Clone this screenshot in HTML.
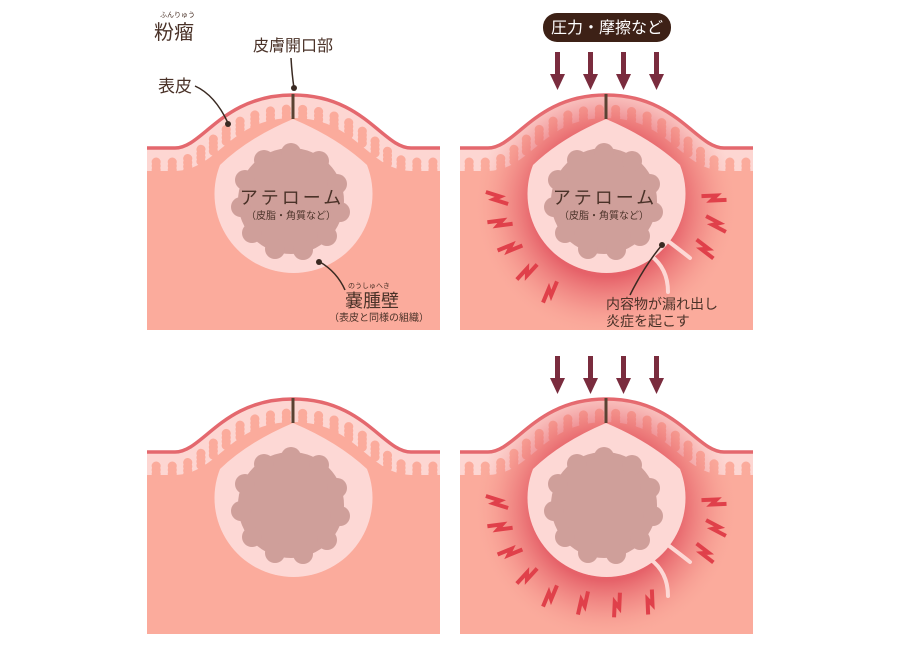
<!DOCTYPE html>
<html><head><meta charset="utf-8"><style>
html,body{margin:0;padding:0;background:#fff;}
svg{display:block;}
text{font-family:"Liberation Sans","Noto Sans CJK JP",sans-serif;fill:#4a3228;}
</style></head><body>
<svg width="900" height="650" viewBox="0 0 900 650" xmlns="http://www.w3.org/2000/svg">
<defs>
  <path id="surf" d="M140,148 L175,148 C203,148 222,95 293,95 C364,95 383,148 411,148 L447,148"/>
  <clipPath id="derm"><path d="M147,148 L175,148 C203,148 222,95 293,95 C364,95 383,148 411,148 L440,148 L440,330 L147,330 Z"/></clipPath>
  <radialGradient id="glow" cx="293" cy="205" r="130" gradientUnits="userSpaceOnUse">
    <stop offset="0.55" stop-color="#e04f5c" stop-opacity="0.8"/>
    <stop offset="0.78" stop-color="#e86a70" stop-opacity="0.35"/>
    <stop offset="1" stop-color="#f5a096" stop-opacity="0"/>
  </radialGradient>
  <g id="skin">
    <path d="M147,148 L175,148 C203,148 222,95 293,95 C364,95 383,148 411,148 L440,148 L440,330 L147,330 Z" fill="#fbab9c"/>
    <g clip-path="url(#derm)">
      <use href="#surf" fill="none" stroke="#fdd6d2" stroke-width="46"/>
      <g fill="none" stroke="#fbab9c" stroke-width="9" stroke-linecap="round" stroke-dasharray="0.1 16">
        <use href="#surf" transform="translate(0,14)"/>
        <use href="#surf" transform="translate(0,18)"/>
        <use href="#surf" transform="translate(0,22)"/>
        <use href="#surf" transform="translate(0,26)"/>
      </g>
    </g>
    <path d="M147,148 L175,148 C203,148 222,95 293,95 C364,95 383,148 411,148 L440,148" fill="none" stroke="#e4686e" stroke-width="3.5"/>
  </g>
  <g id="cyst">
    <path d="M293,119 Q338,138 367,165 A79 79 0 1 1 220,165 Q248,138 293,119Z" fill="#fdd8d5"/>
    <g fill="#cf9f9a">
      <circle cx="291" cy="201" r="53"/>
      <circle cx="291" cy="153" r="10"/><circle cx="319" cy="161" r="10"/><circle cx="337" cy="184" r="10"/>
      <circle cx="340" cy="212" r="10"/><circle cx="327" cy="236" r="10"/><circle cx="303" cy="250" r="10"/>
      <circle cx="275" cy="249" r="10"/><circle cx="252" cy="233" r="10"/><circle cx="241" cy="207" r="10"/>
      <circle cx="245" cy="180" r="10"/><circle cx="264" cy="160" r="10"/>
    </g>
    <line x1="293" y1="94" x2="293" y2="119" stroke="#5a4232" stroke-width="3"/>
  </g>
  <polyline id="bolt" points="-12,-4 3,-2 -3,2 12,4" fill="none" stroke="#e0404a" stroke-width="4" stroke-linejoin="miter" stroke-miterlimit="10"/>
  <g id="arrows" fill="#7a2c3e">
    <rect x="555" y="52" width="5" height="24"/><polygon points="550,74 565,74 557.5,90"/>
    <rect x="588" y="52" width="5" height="24"/><polygon points="583,74 598,74 590.5,90"/>
    <rect x="621" y="52" width="5" height="24"/><polygon points="616,74 631,74 623.5,90"/>
    <rect x="654" y="52" width="5" height="24"/><polygon points="649,74 664,74 656.5,90"/>
  </g>
  <path id="leak" d="M660,235 Q680,250 690,258 M650,255 Q668,268 668,292" fill="none" stroke="#fdd8d5" stroke-width="4" stroke-linecap="round"/>
</defs>

<use href="#skin"/>
<use href="#cyst"/>

<g transform="translate(313,0)">
  <use href="#skin"/>
  <rect x="147" y="96" width="293" height="234" fill="url(#glow)" clip-path="url(#derm)"/>
  <use href="#cyst"/>
</g>
<use href="#leak"/>
<use href="#arrows"/>
<use href="#bolt" transform="translate(497,198) rotate(10)"/>
<use href="#bolt" transform="translate(500,223) rotate(-15)"/>
<use href="#bolt" transform="translate(510,248) rotate(-30)"/>
<use href="#bolt" transform="translate(527,272) rotate(-55)"/>
<use href="#bolt" transform="translate(550,292) rotate(-75)"/>
<use href="#bolt" transform="translate(714,198) rotate(-10)"/>
<use href="#bolt" transform="translate(716,224) rotate(20)"/>
<use href="#bolt" transform="translate(705,249) rotate(30)"/>

<g transform="translate(0,304)">
  <use href="#skin"/>
  <use href="#cyst"/>
</g>

<g transform="translate(313,304)">
  <use href="#skin"/>
  <rect x="147" y="96" width="293" height="234" fill="url(#glow)" clip-path="url(#derm)"/>
  <use href="#cyst"/>
</g>
<use href="#leak" transform="translate(0,304)"/>
<use href="#arrows" transform="translate(0,304)"/>
<use href="#bolt" transform="translate(497,502) rotate(10)"/>
<use href="#bolt" transform="translate(500,527) rotate(-15)"/>
<use href="#bolt" transform="translate(510,552) rotate(-30)"/>
<use href="#bolt" transform="translate(527,576) rotate(-55)"/>
<use href="#bolt" transform="translate(550,596) rotate(-75)"/>
<use href="#bolt" transform="translate(583,603) rotate(-85)"/>
<use href="#bolt" transform="translate(617,605) rotate(-95)"/>
<use href="#bolt" transform="translate(650,602) rotate(-100)"/>
<use href="#bolt" transform="translate(714,502) rotate(-10)"/>
<use href="#bolt" transform="translate(716,528) rotate(20)"/>
<use href="#bolt" transform="translate(705,553) rotate(30)"/>

<text x="160" y="17" font-size="7">ふんりゅう</text>
<text x="154" y="39" font-size="20">粉瘤</text>
<text x="293" y="51" font-size="16" text-anchor="middle">皮膚開口部</text>
<path d="M291,58 Q292,75 294,88" fill="none" stroke="#3a2a22" stroke-width="1.5"/>
<circle cx="294" cy="88" r="3" fill="#3a2a22"/>
<text x="158" y="92" font-size="17">表皮</text>
<path d="M195,86 Q215,95 228,123" fill="none" stroke="#3a2a22" stroke-width="1.5"/>
<circle cx="228" cy="124" r="3" fill="#3a2a22"/>
<text x="292" y="204" font-size="18" text-anchor="middle" letter-spacing="3">アテローム</text>
<text x="291" y="219" font-size="10" text-anchor="middle" fill="#5a4038">（皮脂・角質など）</text>
<path d="M320,262 Q337,272 345,290" fill="none" stroke="#3a2a22" stroke-width="1.5"/>
<circle cx="319" cy="262" r="3" fill="#3a2a22"/>
<text x="348" y="288" font-size="7">のうしゅへき</text>
<text x="345" y="307" font-size="18">嚢腫壁</text>
<text x="329" y="321" font-size="10">（表皮と同様の組織）</text>

<rect x="543" y="13" width="128" height="29" rx="14" fill="#3d2116"/>
<text x="607" y="33" font-size="16" text-anchor="middle" style="fill:#fff">圧力・摩擦など</text>
<text x="605" y="204" font-size="18" text-anchor="middle" letter-spacing="3">アテローム</text>
<text x="604" y="219" font-size="10" text-anchor="middle" fill="#5a4038">（皮脂・角質など）</text>
<circle cx="662" cy="245" r="3" fill="#3a2a22"/>
<path d="M662,245 Q645,265 630,295" fill="none" stroke="#3a2a22" stroke-width="1.5"/>
<text x="606" y="309" font-size="14">内容物が漏れ出し</text>
<text x="606" y="326" font-size="14">炎症を起こす</text>
</svg>
</body></html>
